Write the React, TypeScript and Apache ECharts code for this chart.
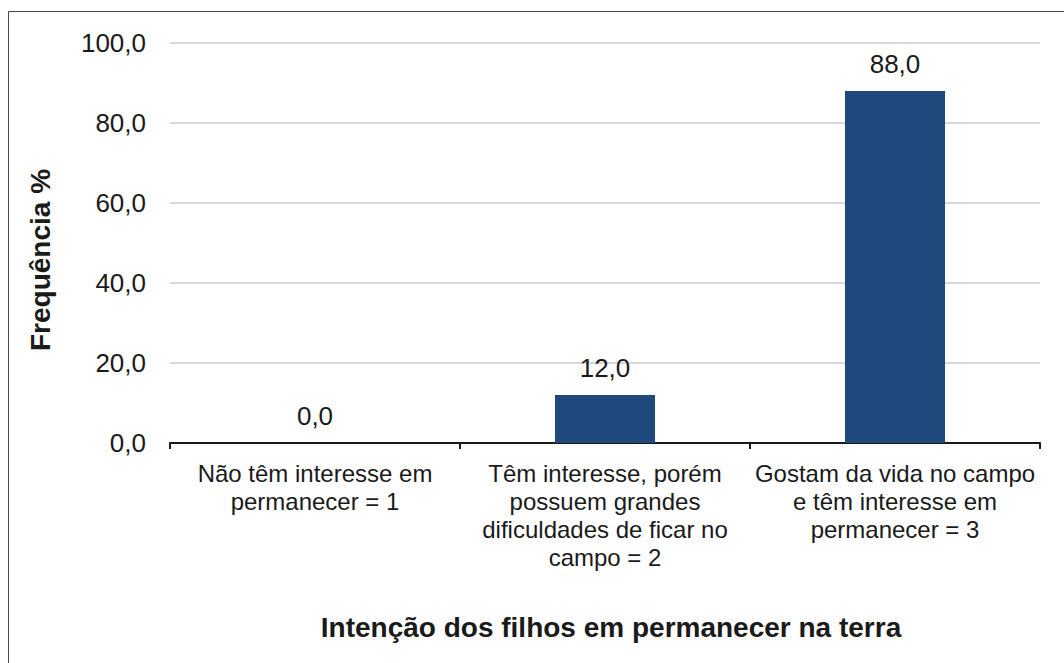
import React, { useEffect, useRef } from "react";
import * as echarts from "echarts";

const categories = [
  "Não têm interesse em\npermanecer = 1",
  "Têm interesse, porém\npossuem grandes\ndificuldades de ficar no\ncampo = 2",
  "Gostam da vida no campo\ne têm interesse em\npermanecer = 3",
];
const values = [0.0, 12.0, 88.0];
const yTitle = "Frequência %";
const xTitle = "Intenção dos filhos em permanecer na terra";

const FONT = "'Liberation Sans', Arial, Helvetica, sans-serif";
const fmt = (v: number) => v.toFixed(1).replace(".", ",");

export default function App() {
  const ref = useRef<HTMLDivElement>(null);
  useEffect(() => {
    if (!ref.current) return;
    const chart = echarts.init(ref.current, undefined, { renderer: "svg" });
    chart.setOption({
      animation: false,
      backgroundColor: "#ffffff",
      grid: { left: 170, right: 24, top: 43, bottom: 220, containLabel: false },
      xAxis: {
        type: "category",
        data: categories,
        axisLine: { show: true, lineStyle: { color: "#1a1a1a", width: 2 } },
        axisTick: { show: true, alignWithLabel: false, length: 6, lineStyle: { color: "#1a1a1a", width: 2 } },
        axisLabel: {
          interval: 0,
          color: "#1a1a1a",
          fontFamily: FONT,
          fontSize: 24,
          lineHeight: 28,
          margin: 16,
          align: "center",
        },
      },
      yAxis: {
        type: "value",
        min: 0,
        max: 100,
        interval: 20,
        axisLine: { show: false },
        axisTick: { show: false },
        splitLine: { lineStyle: { color: "#d9d9d9", width: 2 } },
        axisLabel: {
          color: "#1a1a1a",
          fontFamily: FONT,
          fontSize: 26,
          margin: 24,
          formatter: (v: number) => fmt(v),
        },
      },
      series: [
        {
          type: "bar",
          data: values,
          barWidth: "34.5%",
          itemStyle: { color: "#1f497c" },
          label: {
            show: true,
            position: "top",
            distance: 14,
            color: "#1a1a1a",
            fontFamily: FONT,
            fontSize: 26,
            formatter: (p: any) => fmt(p.value),
          },
        },
      ],
      graphic: [
        {
          type: "rect",
          shape: { x: 8.5, y: 11.5, width: 1100, height: 700 },
          style: { fill: "none", stroke: "#4d4d4d", lineWidth: 1 },
          silent: true,
          z: 100,
        },
        {
          type: "text",
          x: 40,
          y: 260,
          rotation: Math.PI / 2,
          style: {
            text: yTitle,
            fontFamily: FONT,
            fontSize: 28,
            fontWeight: "bold",
            fill: "#1a1a1a",
            align: "center",
            verticalAlign: "middle",
          },
        },
        {
          type: "text",
          x: 611,
          y: 627,
          style: {
            text: xTitle,
            fontFamily: FONT,
            fontSize: 28,
            fontWeight: "bold",
            fill: "#1a1a1a",
            align: "center",
            verticalAlign: "middle",
          },
        },
      ],
    });
    return () => chart.dispose();
  }, []);
  return (
    <div
      ref={ref}
      style={{ position: "fixed", left: 0, top: 0, width: 1064, height: 663 }}
    />
  );
}
